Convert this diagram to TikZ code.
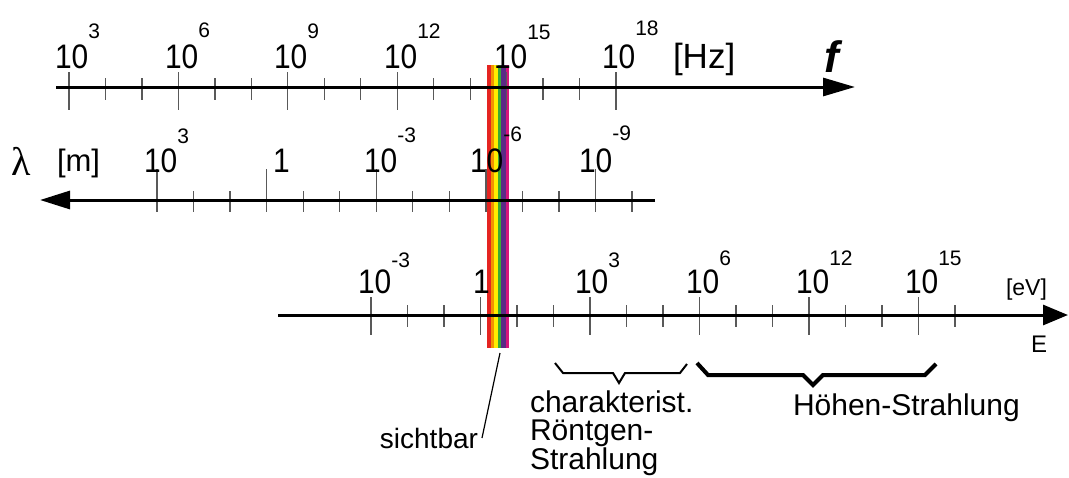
\documentclass[tikz,border=0pt]{standalone}
\usepackage{fontspec}
\setmainfont{Liberation Sans}
\newfontfamily\greekserif{Liberation Serif}
\usetikzlibrary{arrows.meta}
\definecolor{bred}{HTML}{E52421}
\definecolor{borange}{HTML}{F39200}
\definecolor{byellow}{HTML}{FFED00}
\definecolor{bgreen}{HTML}{3AAA35}
\definecolor{bviolet}{HTML}{5B2A86}
\definecolor{bmag}{HTML}{D6157C}
\newcommand\tenbase{\scalebox{0.88}[1]{\fontsize{34}{34}\selectfont 10}}
\newcommand\onebase{\scalebox{0.88}[1]{\fontsize{34}{34}\selectfont 1}}
\newcommand\expo[2]{\raisebox{#1pt}{\fontsize{21}{21}\selectfont #2}}
\begin{document}
\begin{tikzpicture}[x=1pt,y=-1pt,
  axis/.style={line width=3pt,black},
  tickmark/.style={line width=1.3pt,black!65},
  lab/.style={anchor=base west,inner sep=0pt,outer sep=0pt},
  txt/.style={inner sep=0pt,outer sep=0pt,font=\fontsize{30}{30}\selectfont},
  thinbrace/.style={line width=2pt,black,line join=miter},
  boldbrace/.style={line width=4pt,black,line join=miter}]
\useasboundingbox (0,0) rectangle (1069,477);
% visible band
\fill[bred]    (487,65) rectangle (491,348);
\fill[borange] (491,65) rectangle (494,348);
\fill[byellow] (494,65) rectangle (497.5,348);
\fill[bgreen]  (497.5,65) rectangle (501,348);
\fill[bviolet] (501,65) rectangle (506,348);
\fill[bmag]    (506,65) rectangle (508.5,348);
\coordinate (bandfoot) at (500,353);
% frequency axis
\coordinate (fstart) at (56,87);
\coordinate (fend) at (855,87);
\foreach \k in {0,3,...,15} \draw[tickmark] ({69+36.47*\k},72) -- ++(0,38);
\foreach \k in {1,2,4,5,7,8,10,11,13,14} \draw[tickmark] ({69+36.47*\k},78) -- ++(0,22);
\draw[axis,-{Triangle[length=32pt,width=18pt]}] (fstart) -- (fend);
\node[lab] (f3)  at (55,68)  {\tenbase\expo{30}{3}};
\node[lab] (f6)  at (165,68) {\tenbase\expo{31}{6}};
\node[lab] (f9)  at (274,68) {\tenbase\expo{30}{9}};
\node[lab] (f12) at (384,68) {\tenbase\expo{30}{12}};
\node[lab] (f15) at (494,68) {\tenbase\expo{29}{15}};
\node[lab] (f18) at (602,68) {\tenbase\expo{33}{18}};
\node[lab] (hz) at (673,68) {\fontsize{35}{35}\selectfont [Hz]};
\node[lab] (fsym) at (824,72) {\fontsize{44}{44}\selectfont\bfseries\itshape f};
% wavelength axis
\coordinate (lstart) at (655,200);
\coordinate (lend) at (40,200);
\foreach \k in {0,3,...,12} \draw[tickmark] ({157+36.54*\k},169) -- ++(0,43);
\foreach \k in {1,2,4,5,7,8,10,11,13} \draw[tickmark] ({157+36.54*\k},191) -- ++(0,21);
\draw[axis,-{Triangle[length=30pt,width=18pt]}] (lstart) -- (lend);
\node[lab] (lam) at (11,175) {\fontsize{40}{40}\greekserif λ};
\node[lab] (lunit) at (57,171) {\fontsize{31}{31}\selectfont [m]};
\node[lab] (l3)  at (144,172) {\tenbase\expo{29}{3}};
\node[lab] (l0)  at (273,172) {\onebase};
\node[lab] (lm3) at (364,172) {\tenbase\expo{30}{-3}};
\node[lab] (lm6) at (470,172) {\tenbase\expo{31}{-6}};
\node[lab] (lm9) at (579,172) {\tenbase\expo{32}{-9}};
% energy axis
\coordinate (estart) at (278,315);
\coordinate (eend) at (1068,315);
\foreach \k in {0,3,...,15} \draw[tickmark] ({371+36.5*\k},297) -- ++(0,38);
\foreach \k in {1,2,4,5,7,8,10,11,13,14,16} \draw[tickmark] ({371+36.5*\k},305) -- ++(0,22);
\draw[axis,-{Triangle[length=25pt,width=20pt]}] (estart) -- (eend);
\node[lab] (em3) at (358,293) {\tenbase\expo{26}{-3}};
\node[lab] (e0)  at (473,293) {\onebase};
\node[lab] (e3)  at (575,293) {\tenbase\expo{26}{3}};
\node[lab] (e6)  at (686,293) {\tenbase\expo{28}{6}};
\node[lab] (e12) at (796,293) {\tenbase\expo{28}{12}};
\node[lab] (e15) at (905,293) {\tenbase\expo{28}{15}};
\node[lab] (eunit) at (1006,295) {\fontsize{23}{23}\selectfont [eV]};
\node[lab] (esym) at (1031,352) {\fontsize{24}{24}\selectfont E};
% labels below
\node[txt,anchor=base east,font=\fontsize{28}{28}\selectfont] (vis) at (478,448) {sichtbar};
\coordinate (vislink) at (482,438);
\draw[line width=1.2pt] (bandfoot) -- (vislink);
\draw[thinbrace] (555,363) -- (563,373) -- (613,373) -- (619,383) -- (625,373) -- (680,373) -- (687,364);
\node[txt,anchor=base west,align=left,font=\fontsize{30}{27.5}\selectfont] (xray) at (530,469) {charakterist.\\Röntgen-\\Strahlung};
\draw[boldbrace] (697,363) -- (708,375) -- (803,375) -- (813,385) -- (823,375) -- (925,375) -- (936,364);
\node[txt,anchor=base west] (cosmic) at (793,415) {Höhen-Strahlung};
\end{tikzpicture}
\end{document}
